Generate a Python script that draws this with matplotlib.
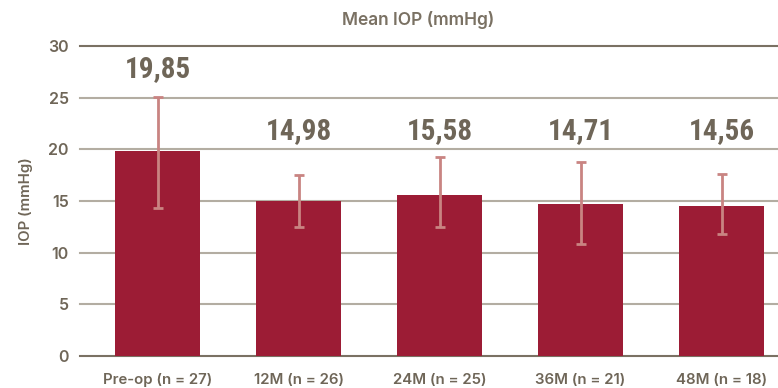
import matplotlib
matplotlib.use("Agg")
import matplotlib.pyplot as plt
from matplotlib import font_manager
import numpy as np

# ---- data ----
categories = ["Pre-op (n = 27)", "12M (n = 26)", "24M (n = 25)", "36M (n = 21)", "48M (n = 18)"]
mean_iop = [19.85, 14.98, 15.58, 14.71, 14.56]
err_upper = [25.1, 17.5, 19.3, 18.8, 17.6]   # upper end of error bar
err_lower = [14.3, 12.5, 12.5, 10.8, 11.8]   # lower end of error bar
value_labels = ["19,85", "14,98", "15,58", "14,71", "14,56"]
y_ticks = [0, 5, 10, 15, 20, 25, 30]

# ---- style ----
bar_color = "#9c1c35"
err_color = "#c98482"
text_color = "#6f6658"
grid_color = "#b3ada2"
dark_line = "#7a7163"

fl = font_manager.fontManager.ttflist
names = {f.name for f in fl}
base_family = "Inter" if "Inter" in names else "DejaVu Sans"

label_family, label_stretch = None, "normal"
for cand in ["Roboto Condensed", "Open Sans Condensed", "Liberation Sans Narrow",
             "Noto Sans Condensed", "DejaVu Sans Condensed"]:
    if cand in names:
        label_family = cand
        break
if label_family is None:
    narrow = [f for f in fl if ("Condensed" in f.name or "Narrow" in f.name
              or str(f.stretch) in ("condensed", "semi-condensed", "extra-condensed", "ultra-condensed")
              or (isinstance(f.stretch, int) and f.stretch < 500))]
    if narrow:
        label_family = narrow[0].name
        label_stretch = narrow[0].stretch
    else:
        label_family = "Roboto" if "Roboto" in names else "DejaVu Sans"

fig = plt.figure(figsize=(7.78, 3.88), dpi=100)
ax = fig.add_axes([80 / 778, 32 / 388, 698 / 778, 310 / 388])

x = np.arange(len(categories))
means = np.array(mean_iop)
yerr = np.vstack([means - np.array(err_lower), np.array(err_upper) - means])

ax.bar(x, means, width=0.6, color=bar_color, zorder=2)
ax.errorbar(x, means, yerr=yerr, fmt="none", ecolor=err_color, elinewidth=2,
            capsize=3.8, capthick=2, zorder=3)

ax.set_xlim(-0.55, 4.4)
ax.set_ylim(0, 30)
ax.set_yticks(y_ticks)
ax.set_xticks(x)
ax.set_xticklabels(categories)

for t in y_ticks:
    c = dark_line if t in (0, 30) else grid_color
    ax.axhline(t, color=c, lw=1.5, zorder=1, clip_on=False)

for s in ax.spines.values():
    s.set_visible(False)
ax.tick_params(axis="both", length=0, labelcolor=text_color)
ax.tick_params(axis="x", pad=12, labelsize=10.8)
ax.tick_params(axis="y", pad=8, labelsize=11.5)
for lab in ax.get_xticklabels() + ax.get_yticklabels():
    lab.set_family(base_family)
    lab.set_fontweight("semibold")

ax.set_ylabel("IOP (mmHg)", fontsize=10.8, color=text_color, family=base_family,
              fontweight="semibold", labelpad=11)
fig.text(418 / 778, 1 - 20 / 388, "Mean IOP (mmHg)", ha="center", va="center",
         fontsize=12.5, color=dark_line, family=base_family, fontweight="semibold")

label_y = [26.4, 20.4, 20.4, 20.4, 20.4]
for xi, ly, txt in zip(x, label_y, value_labels):
    ax.text(xi, ly, txt, ha="center", va="bottom", fontsize=21, fontweight="bold",
            color=text_color, family=label_family, fontstretch=label_stretch, zorder=4)

fig.savefig("out.png", dpi=100)
